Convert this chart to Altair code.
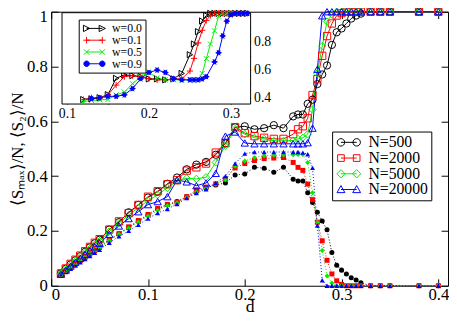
import altair as alt
import pandas as pd

# ---------------- main panel data ----------------
d_values = [0.01, 0.015, 0.02, 0.025, 0.03, 0.035, 0.04, 0.045, 0.05,
            0.06, 0.07, 0.08, 0.09, 0.10, 0.11, 0.12, 0.13, 0.14, 0.15, 0.16,
            0.17, 0.18, 0.19, 0.20, 0.21, 0.22, 0.23, 0.24,
            0.25, 0.255, 0.26, 0.265, 0.27, 0.275, 0.28, 0.285, 0.29, 0.295,
            0.30, 0.305, 0.31, 0.315, 0.32,
            0.33, 0.34, 0.35, 0.38, 0.40]

smax_N500 = [0.045, 0.062, 0.078, 0.093, 0.108, 0.124, 0.14, 0.155, 0.168,
             0.205, 0.232, 0.268, 0.295, 0.322, 0.343, 0.372, 0.395, 0.425, 0.442, 0.452,
             0.478, 0.52, 0.578, 0.582, 0.571, 0.575, 0.586, 0.575,
             0.618, 0.625, 0.625, 0.664, 0.679, 0.736, 0.771, 0.804, 0.879, 0.925,
             0.939, 0.957, 0.975, 0.986, 0.993,
             1, 1, 1, 1, 1]
smax_N2000 = [0.045, 0.063, 0.08, 0.095, 0.11, 0.126, 0.142, 0.157, 0.17,
              0.205, 0.235, 0.265, 0.295, 0.325, 0.345, 0.37, 0.385, 0.42, 0.432, 0.446,
              0.486, 0.52, 0.579, 0.557, 0.546, 0.54, 0.536, 0.536,
              0.553, 0.571, 0.582, 0.611, 0.696, 0.754, 0.839, 0.911, 0.957, 0.986,
              0.995, 1, 1, 1, 1,
              1, 1, 1, 1, 1]
smax_N5000 = [0.043, 0.06, 0.076, 0.09, 0.105, 0.12, 0.135, 0.15, 0.163,
              0.198, 0.228, 0.258, 0.285, 0.31, 0.332, 0.357, 0.383, 0.392, 0.39, 0.396,
              0.45, 0.511, 0.572, 0.553, 0.54, 0.536, 0.529, 0.529,
              0.53, 0.536, 0.54, 0.553, 0.643, 0.775, 0.875, 0.964, 0.99, 1,
              1, 1, 1, 1, 1,
              1, 1, 1, 1, 1]
smax_N20000 = [0.042, 0.057, 0.072, 0.086, 0.1, 0.114, 0.128, 0.142, 0.155,
               0.188, 0.218, 0.245, 0.27, 0.296, 0.307, 0.325, 0.386, 0.379, 0.365, 0.375,
               0.41, 0.546, 0.561, 0.521, 0.518, 0.518, 0.518, 0.518,
               0.518, 0.518, 0.518, 0.522, 0.575, 0.79, 0.985, 1, 1, 1,
               1, 1, 1, 1, 1,
               1, 1, 1, 1, 1]

s2_N500 = [0.04, 0.055, 0.068, 0.08, 0.092, 0.105, 0.117, 0.13, 0.142,
           0.168, 0.19, 0.212, 0.235, 0.258, 0.28, 0.296, 0.307, 0.325, 0.343, 0.357,
           0.368, 0.375, 0.404, 0.408, 0.432, 0.429, 0.414, 0.432,
           0.389, 0.382, 0.382, 0.339, 0.304, 0.268, 0.236, 0.204, 0.121, 0.075,
           0.057, 0.043, 0.029, 0.021, 0.011,
           0, 0, 0, 0, 0]
s2_N2000 = [0.04, 0.054, 0.067, 0.079, 0.091, 0.104, 0.116, 0.128, 0.14,
            0.167, 0.19, 0.215, 0.238, 0.26, 0.282, 0.297, 0.305, 0.325, 0.35, 0.36,
            0.372, 0.39, 0.43, 0.446, 0.457, 0.464, 0.466, 0.468,
            0.45, 0.432, 0.421, 0.371, 0.314, 0.232, 0.164, 0.093, 0.043, 0.018,
            0.005, 0, 0, 0, 0,
            0, 0, 0, 0, 0]
s2_N5000 = [0.04, 0.053, 0.066, 0.078, 0.09, 0.102, 0.114, 0.126, 0.138,
            0.165, 0.188, 0.21, 0.233, 0.254, 0.275, 0.292, 0.303, 0.322, 0.342, 0.356,
            0.37, 0.386, 0.436, 0.455, 0.468, 0.474, 0.476, 0.477,
            0.478, 0.479, 0.479, 0.45, 0.339, 0.232, 0.129, 0.036, 0.01, 0,
            0, 0, 0, 0, 0,
            0, 0, 0, 0, 0]
s2_N20000 = [0.038, 0.05, 0.062, 0.074, 0.085, 0.097, 0.108, 0.12, 0.131,
             0.157, 0.18, 0.2, 0.222, 0.245, 0.265, 0.28, 0.298, 0.32, 0.338, 0.352,
             0.375, 0.40, 0.446, 0.482, 0.488, 0.488, 0.488, 0.488,
             0.488, 0.488, 0.486, 0.48, 0.43, 0.22, 0.02, 0, 0, 0,
             0, 0, 0, 0, 0,
             0, 0, 0, 0, 0]

series_names = ["N=500", "N=2000", "N=5000", "N=20000"]
series_colors = ["#000000", "#ff0000", "#00ee00", "#0000ff"]

x_ticks = [0, 0.1, 0.2, 0.3, 0.4]
y_ticks = [0, 0.2, 0.4, 0.6, 0.8, 1]

# ---------------- inset data ----------------
inset_w_w00 = [0.12, 0.13, 0.14, 0.15, 0.16, 0.17, 0.18, 0.19, 0.20, 0.21, 0.22, 0.23, 0.24,
               0.25, 0.255, 0.26, 0.265, 0.27,
               0.275, 0.28, 0.285, 0.29, 0.295, 0.30, 0.305, 0.31, 0.315, 0.32]
inset_v_w00 = [0.387, 0.392, 0.40, 0.422, 0.538, 0.562, 0.557, 0.55, 0.534, 0.534, 0.527, 0.534, 0.573,
               0.706, 0.782, 0.87, 0.946, 0.985,
               1, 1, 1, 1, 1, 1, 1, 1, 1, 1]
inset_w_w01 = [0.12, 0.13, 0.14, 0.15, 0.16, 0.17, 0.18, 0.19, 0.20, 0.21, 0.22, 0.23, 0.24,
               0.25, 0.255, 0.26, 0.265, 0.27, 0.275,
               0.28, 0.285, 0.29, 0.295, 0.30, 0.305, 0.31, 0.315, 0.32]
inset_v_w01 = [0.387, 0.40, 0.398, 0.42, 0.49, 0.55, 0.557, 0.55, 0.534, 0.527, 0.527, 0.534, 0.534,
               0.59, 0.68, 0.79, 0.88, 0.95, 0.985,
               1, 1, 1, 1, 1, 1, 1, 1, 1]
inset_w_w05 = [0.12, 0.13, 0.14, 0.15, 0.16, 0.17, 0.18, 0.19, 0.20, 0.21, 0.22, 0.23, 0.24, 0.25, 0.26,
               0.265, 0.27, 0.275, 0.28, 0.285,
               0.29, 0.295, 0.30, 0.305, 0.31, 0.315, 0.32]
inset_v_w05 = [0.372, 0.38, 0.385, 0.387, 0.42, 0.44, 0.50, 0.55, 0.58, 0.54, 0.527, 0.527, 0.527, 0.527, 0.53,
               0.573, 0.678, 0.782, 0.876, 0.98,
               1, 1, 1, 1, 1, 1, 1]
inset_w_w09 = [0.13, 0.14, 0.15, 0.16, 0.17, 0.18, 0.19, 0.20, 0.21, 0.22, 0.23, 0.24,
               0.25, 0.255, 0.26, 0.265, 0.27, 0.28, 0.285, 0.29, 0.295, 0.30,
               0.305, 0.31, 0.315, 0.32]
inset_v_w09 = [0.394, 0.40, 0.41, 0.41, 0.42, 0.465, 0.535, 0.58, 0.597, 0.58, 0.535, 0.527,
               0.527, 0.527, 0.527, 0.534, 0.55, 0.655, 0.72, 0.84, 0.945, 0.99,
               1, 1, 1, 1]

inset_names = ["w=0.0", "w=0.1", "w=0.5", "w=0.9"]
inset_colors = ["#000000", "#ff0000", "#00ee00", "#0000ff"]
inset_x_ticks = [0.1, 0.15, 0.2, 0.25, 0.3]
inset_x_labels = [0.1, 0.2, 0.3]
inset_y_ticks = [0.4, 0.5, 0.6, 0.7, 0.8, 0.9]
inset_y_labels = [0.4, 0.6, 0.8]

# ---------------- tables ----------------
main_rows = []
for name, sm, s2 in zip(series_names,
                        [smax_N500, smax_N2000, smax_N5000, smax_N20000],
                        [s2_N500, s2_N2000, s2_N5000, s2_N20000]):
    for d, a, b in zip(d_values, sm, s2):
        main_rows.append({"series": name, "d": d, "smax": a, "s2": b})
main_df = pd.DataFrame(main_rows)

inset_rows = []
for name, ws, vs in zip(inset_names,
                        [inset_w_w00, inset_w_w01, inset_w_w05, inset_w_w09],
                        [inset_v_w00, inset_v_w01, inset_v_w05, inset_v_w09]):
    for w, v in zip(ws, vs):
        inset_rows.append({"series": name, "w": w, "v": v})
inset_df = pd.DataFrame(inset_rows)

# ---------------- layout ----------------
W, H = 404, 279
FONT = "'Liberation Serif', 'Times New Roman', Times, serif"

INSET_X_DOMAIN = [0.094, 0.324]
INSET_Y_DOMAIN = [0.355, 1.005]
INSET_X_RANGE = [11, 203]
INSET_Y_RANGE = [94, 1]

x_main = alt.Scale(domain=[0, 0.41], nice=False, zero=False)
y_main = alt.Scale(domain=[0, 1], nice=False, zero=False)
col_main = alt.Scale(domain=series_names, range=series_colors)
shape_main = alt.Scale(domain=series_names,
                       range=["circle", "square", "diamond", "triangle-up"])


def tick_axis(orient, offset, values, size):
    return alt.Axis(orient=orient, offset=offset, values=values, labels=False,
                    domain=False, ticks=True, tickSize=size, tickColor="black",
                    tickWidth=1, grid=False, title=None)


ax_x_lab = alt.Axis(orient="bottom", values=x_ticks, format="~g", ticks=False,
                    domain=False, grid=False, labelFont=FONT, labelFontSize=17,
                    labelColor="black", labelPadding=1, title="d",
                    titleFont=FONT, titleFontSize=18, titleFontWeight="normal",
                    titleColor="black", titleBaseline="bottom", titleY=30)
ax_y_lab = alt.Axis(orient="left", values=y_ticks, format="~g", ticks=False,
                    domain=False, grid=False, labelFont=FONT, labelFontSize=17,
                    labelColor="black", labelPadding=4,
                    labelOffset={"condition": {"test": "datum.value === 1", "value": 5}, "value": 0},
                    title="⟨Sₘₐₓ⟩/N, ⟨S₂⟩/N", titleFont=FONT, titleFontSize=17,
                    titleFontWeight="normal", titleColor="black",
                    titleBaseline="alphabetic", titleX=-29)

s2_lines = alt.Chart(main_df).mark_line(strokeWidth=1, strokeDash=[1, 2]).encode(
    x=alt.X("d:Q", scale=x_main, axis=ax_x_lab),
    y=alt.Y("s2:Q", scale=y_main, axis=ax_y_lab),
    color=alt.Color("series:N", scale=col_main, legend=None),
)
s2_points = alt.Chart(main_df).mark_point(filled=True, size=26, opacity=1).encode(
    x=alt.X("d:Q", scale=x_main, axis=tick_axis("top", -H, x_ticks, 7)),
    y=alt.Y("s2:Q", scale=y_main, axis=tick_axis("right", -W, y_ticks, 7)),
    color=alt.Color("series:N", scale=col_main, legend=None),
    shape=alt.Shape("series:N", scale=shape_main, legend=None),
)
smax_lines = alt.Chart(main_df).mark_line(strokeWidth=1).encode(
    x=alt.X("d:Q", scale=x_main, axis=tick_axis("bottom", -H, x_ticks, 7)),
    y=alt.Y("smax:Q", scale=y_main, axis=tick_axis("left", -W, y_ticks, 7)),
    color=alt.Color("series:N", scale=col_main, legend=None),
)
smax_points = alt.Chart(main_df).mark_point(filled=False, size=55, strokeWidth=1,
                                            opacity=1).encode(
    x=alt.X("d:Q", scale=x_main, axis=None),
    y=alt.Y("smax:Q", scale=y_main, axis=None),
    color=alt.Color("series:N", scale=col_main, legend=None),
    shape=alt.Shape("series:N", scale=shape_main, legend=None),
)
main = alt.layer(s2_lines, s2_points, smax_lines, smax_points).resolve_axis(
    x="independent", y="independent")

# ---------------- inset ----------------
x_in = alt.Scale(domain=INSET_X_DOMAIN, range=INSET_X_RANGE, nice=False, zero=False)
y_in = alt.Scale(domain=INSET_Y_DOMAIN, range=INSET_Y_RANGE, nice=False, zero=False)
col_in = alt.Scale(domain=inset_names, range=inset_colors)
P_PLUS = "M-1,0L1,0M0,-1L0,1"
P_X = "M-0.8,-0.8L0.8,0.8M-0.8,0.8L0.8,-0.8"
P_STAR = ("M-1,0L1,0M-0.5,-0.87L0.5,0.87M-0.5,0.87L0.5,-0.87"
          "M0.6,0A0.6,0.6 0 1,1 -0.6,0A0.6,0.6 0 1,1 0.6,0Z")
shape_in = alt.Scale(domain=inset_names, range=["triangle-right", P_PLUS, P_X, P_STAR])
fill_in = alt.Scale(domain=inset_names,
                    range=["transparent", "transparent", "transparent", "#0000ff"])

ix_lab = alt.Axis(orient="bottom", offset=INSET_Y_RANGE[0] - H, values=inset_x_labels,
                  format="~g", ticks=False, domain=False, grid=False, labelFont=FONT,
                  labelFontSize=14, labelColor="black", labelPadding=3, title=None)
iy_lab = alt.Axis(orient="right", offset=INSET_X_RANGE[1] - W, values=inset_y_labels,
                  format="~g", ticks=False, domain=False, grid=False, labelFont=FONT,
                  labelFontSize=14, labelColor="black", labelPadding=3, title=None)

frame = alt.Chart(pd.DataFrame({"frame": [0]})).mark_rect(
    fill="white", stroke="black", strokeWidth=1).encode(
    x=alt.XDatum(INSET_X_DOMAIN[0], type="quantitative", scale=x_in, axis=ix_lab),
    x2=alt.X2Datum(INSET_X_DOMAIN[1]),
    y=alt.YDatum(INSET_Y_DOMAIN[0], type="quantitative", scale=y_in, axis=iy_lab),
    y2=alt.Y2Datum(INSET_Y_DOMAIN[1]),
)
in_lines = alt.Chart(inset_df).mark_line(strokeWidth=1).encode(
    x=alt.X("w:Q", scale=x_in,
            axis=tick_axis("top", -INSET_Y_RANGE[0], inset_x_ticks, 4)),
    y=alt.Y("v:Q", scale=y_in,
            axis=tick_axis("left", -INSET_X_RANGE[1], inset_y_ticks, 4)),
    color=alt.Color("series:N", scale=col_in, legend=None),
)
in_points = alt.Chart(inset_df).mark_point(filled=False, size=40, strokeWidth=1,
                                           opacity=1).encode(
    x=alt.X("w:Q", scale=x_in,
            axis=tick_axis("bottom", INSET_Y_RANGE[1] - H, inset_x_ticks, 4)),
    y=alt.Y("v:Q", scale=y_in,
            axis=tick_axis("right", INSET_X_RANGE[0] - W, inset_y_ticks, 4)),
    color=alt.Color("series:N", scale=col_in, legend=None),
    shape=alt.Shape("series:N", scale=shape_in, legend=None),
    fill=alt.Fill("series:N", scale=fill_in, legend=None),
)
inset = alt.layer(frame, in_lines, in_points).resolve_axis(
    x="independent", y="independent")


# ---------------- legends ----------------
def circ(cx, r):
    return f"M{cx + r},0A{r},{r} 0 1,1 {cx - r},0A{r},{r} 0 1,1 {cx + r},0Z"


def sq(cx, h):
    return f"M{cx - h},{-h}L{cx + h},{-h}L{cx + h},{h}L{cx - h},{h}Z"


def dia(cx, h):
    return f"M{cx - h},0L{cx},{-h}L{cx + h},0L{cx},{h}Z"


def tri_up(cx, h):
    return f"M{cx},{-h}L{cx + h},{h * 0.8}L{cx - h},{h * 0.8}Z"


def tri_right(cx, h):
    return f"M{cx + h},0L{cx - h},{-h}L{cx - h},{h}Z"


def plus(cx, h):
    return f"M{cx - h},0L{cx + h},0M{cx},{-h}L{cx},{h}"


def cross(cx, h):
    return f"M{cx - h},{-h}L{cx + h},{h}M{cx - h},{h}L{cx + h},{-h}"


LINE = "M-4,0L4,0"
legend_main_paths = [LINE + circ(-4, 1.9) + circ(4, 1.9),
                     LINE + sq(-4, 1.7) + sq(4, 1.7),
                     LINE + dia(-4, 2.1) + dia(4, 2.1),
                     LINE + tri_up(-4, 2.0) + tri_up(4, 2.0)]
legend_in_paths = [LINE + tri_right(-4, 1.6) + tri_right(4, 1.6),
                   LINE + plus(-4, 1.7) + plus(4, 1.7),
                   LINE + cross(-4, 1.4) + cross(4, 1.4),
                   LINE + circ(-4, 1.4) + circ(4, 1.4)]

main_legend = alt.Legend(title=None, orient="none", legendX=286, legendY=122,
                         padding=3, strokeColor="black", fillColor="white",
                         labelFont=FONT, labelFontSize=16, labelColor="black",
                         symbolSize=16, symbolStrokeWidth=1, symbolOpacity=1,
                         symbolOffset=6, labelOffset=12, rowPadding=0,
                         cornerRadius=0)
inset_legend = alt.Legend(title=None, orient="none", legendX=28, legendY=8,
                          padding=3, strokeColor="black", fillColor="white",
                          labelFont=FONT, labelFontSize=12, labelColor="black",
                          symbolSize=16, symbolStrokeWidth=1, symbolOpacity=1,
                          symbolOffset=7, labelOffset=12, rowPadding=0,
                          cornerRadius=0)

legend_main_layer = alt.Chart(pd.DataFrame({"series": series_names})).mark_point(
    filled=False, opacity=0, size=16, strokeWidth=1).encode(
    color=alt.Color("series:N", scale=col_main, legend=main_legend),
    shape=alt.Shape("series:N", scale=alt.Scale(domain=series_names,
                                                 range=legend_main_paths),
                    legend=main_legend),
)
legend_in_layer = alt.Chart(pd.DataFrame({"series": inset_names})).mark_point(
    filled=False, opacity=0, size=16, strokeWidth=1).encode(
    color=alt.Color("series:N", scale=col_in, legend=inset_legend),
    shape=alt.Shape("series:N", scale=alt.Scale(domain=inset_names,
                                                 range=legend_in_paths),
                    legend=inset_legend),
    fill=alt.Fill("series:N", scale=fill_in, legend=inset_legend),
)

chart = alt.layer(main, inset, legend_main_layer, legend_in_layer).resolve_scale(
    x="independent", y="independent", color="independent",
    shape="independent", fill="independent",
).properties(
    width=W, height=H, autosize="none",
    padding={"left": 44, "top": 1, "right": 1, "bottom": 27},
).configure_view(stroke="black", strokeWidth=1).configure_axis(
    labelFont=FONT, titleFont=FONT, grid=False)

chart.save("out.html", embed_options={"renderer": "svg", "actions": False})
